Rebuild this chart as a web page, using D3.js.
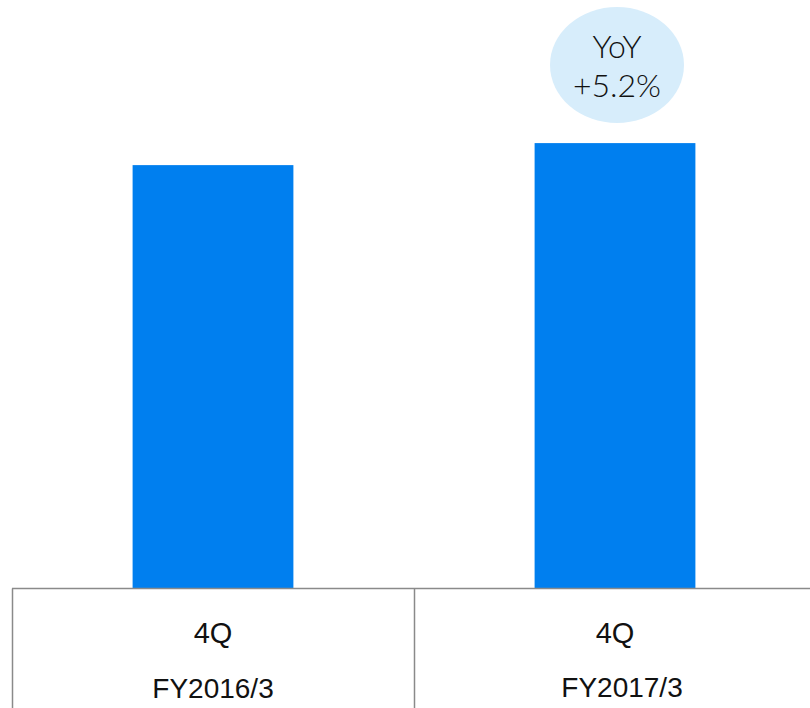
<!DOCTYPE html>
<html><head><meta charset="utf-8">
<script src="https://cdn.jsdelivr.net/npm/d3@7"></script>
<style>html,body{margin:0;padding:0;background:#fff;overflow:hidden}</style>
</head><body>
<svg id="c" width="810" height="708"></svg>
<script>
const quarters = ["4Q", "4Q"];
const fiscalYears = ["FY2016/3", "FY2017/3"];
const values = [100, 105.2];
const yoyLabel = ["YoY", "+5.2%"];

const svg = d3.select("#c");
const baseY = 588.5;
const x = d3.scaleBand().domain(fiscalYears).range([12, 816]).paddingInner(0).paddingOuter(0);
const y = d3.scaleLinear().domain([0, 139]).range([baseY, 0]);
const barW = x.bandwidth() * 0.4;

svg.selectAll("rect.bar").data(values).enter().append("rect")
  .attr("class", "bar")
  .attr("x", (d, i) => x(fiscalYears[i]) + x.bandwidth() / 2 - barW / 2)
  .attr("y", d => y(d))
  .attr("width", barW)
  .attr("height", d => baseY - y(d))
  .attr("fill", "#007FEF");

// table lines
svg.append("line").attr("x1", 12).attr("x2", 810).attr("y1", baseY).attr("y2", baseY)
  .attr("stroke", "#8a8a8a").attr("stroke-width", 1.5);
fiscalYears.forEach(f => {
  svg.append("line").attr("x1", x(f) + 0.5).attr("x2", x(f) + 0.5).attr("y1", baseY).attr("y2", 708)
    .attr("stroke", "#8a8a8a").attr("stroke-width", 1.5);
});

svg.selectAll("text.q").data(quarters).enter().append("text")
  .attr("class", "q")
  .attr("x", (d, i) => x(fiscalYears[i]) + x.bandwidth() / 2)
  .attr("y", 643)
  .attr("text-anchor", "middle")
  .attr("font-family", "Liberation Sans, Arial, sans-serif")
  .attr("font-size", 29)
  .attr("fill", "#111")
  .text(d => d);

svg.selectAll("text.fy").data(fiscalYears).enter().append("text")
  .attr("class", "fy")
  .attr("x", (d, i) => x(d) + x.bandwidth() / 2 + (i === 1 ? 7 : 0))
  .attr("y", (d, i) => i === 1 ? 697 : 698)
  .attr("text-anchor", "middle")
  .attr("font-family", "Liberation Sans, Arial, sans-serif")
  .attr("font-size", 28)
  .attr("fill", "#111")
  .text(d => d);

// YoY bubble above second bar
const bx = x(fiscalYears[1]) + x.bandwidth() / 2 + 2;
svg.append("ellipse").attr("cx", bx).attr("cy", 65).attr("rx", 67).attr("ry", 58)
  .attr("fill", "#D7EDFB");
svg.selectAll("text.yoy").data(yoyLabel).enter().append("text")
  .attr("class", "yoy")
  .attr("x", bx)
  .attr("y", (d, i) => i === 0 ? 58 : 97)
  .attr("text-anchor", "middle")
  .attr("font-family", "Lato, Open Sans, sans-serif")
  .attr("font-weight", 300)
  .attr("font-size", 32)
  .attr("fill", "#111")
  .text(d => d);
</script>
</body></html>
